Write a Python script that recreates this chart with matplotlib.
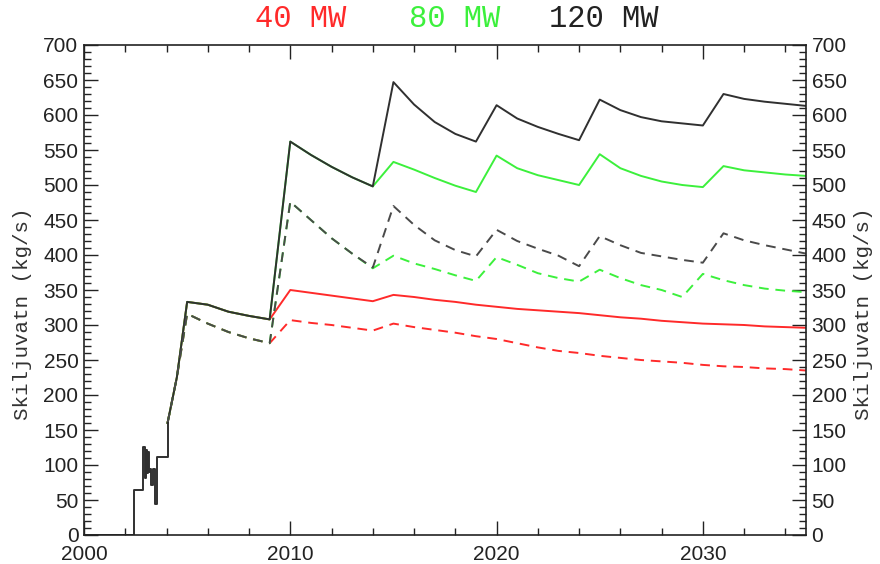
import matplotlib.pyplot as plt
from matplotlib.ticker import MultipleLocator

# observed history (step series)
hist_years = [2000.0, 2002.4, 2002.87, 2002.95, 2003.0, 2003.05, 2003.1, 2003.15,
              2003.2, 2003.27, 2003.35, 2003.45, 2003.55, 2003.95, 2004.05]
hist_vals = [0, 65, 126, 82, 122, 88, 118, 90, 95, 72, 95, 45, 112, 112, 160]

# scenario years
years = [2004.05, 2004.5] + list(range(2005, 2036))

# 120 MW
black_solid = [160, 225, 333, 329, 319, 313, 308, 562, 543, 526, 511, 498,
               647, 615, 590, 573, 562, 614, 595, 583, 573, 564,
               622, 607, 597, 591, 588, 585, 630, 623, 619, 616, 613]
black_dash = [160, 225, 316, 302, 290, 281, 274, 476, 450, 424, 402, 382,
              470, 443, 421, 407, 398, 436, 420, 409, 399, 384,
              427, 414, 403, 398, 393, 389, 431, 421, 414, 408, 402]

# 80 MW
green_solid = [160, 225, 333, 329, 319, 313, 308, 562, 543, 526, 511, 498,
               533, 522, 510, 499, 490, 542, 524, 514, 507, 500,
               544, 524, 513, 505, 500, 497, 527, 521, 518, 515, 513]
green_dash = [160, 225, 316, 302, 290, 281, 274, 476, 450, 424, 402, 381,
              399, 388, 380, 371, 363, 397, 386, 374, 367, 362,
              379, 367, 357, 350, 340, 373, 364, 357, 352, 349, 347]

# 40 MW
red_solid = [160, 225, 333, 329, 319, 313, 308, 350, 346, 342, 338, 334,
             343, 340, 336, 333, 329, 326, 323, 321, 319, 317,
             314, 311, 309, 306, 304, 302, 301, 300, 298, 297, 296]
red_dash = [160, 225, 316, 302, 290, 281, 274, 307, 303, 300, 296, 292,
            302, 297, 293, 289, 284, 280, 274, 268, 263, 260,
            256, 253, 250, 248, 246, 243, 241, 240, 238, 237, 235]

RED = "#ff2a2a"
GREEN = "#3cf03c"
BLACK = "#303030"
DGRAY = "#4a4a4a"

fig = plt.figure(figsize=(8.8, 5.64), dpi=100)
ax = fig.add_axes([84 / 880, 29 / 564, 722 / 880, 490 / 564])

dash = (0, (5, 3.5))
ax.plot(years, red_solid, color=RED, lw=1.4)
ax.plot(years, red_dash, color=RED, lw=1.4, ls=dash)
ax.plot(years, green_solid, color=GREEN, lw=1.4)
ax.plot(years, green_dash, color=GREEN, lw=1.4, ls=dash)
ax.plot(years, black_solid, color=BLACK, lw=1.4)
ax.plot(years, black_dash, color=DGRAY, lw=1.4, ls=dash)
ax.plot(hist_years, hist_vals, color=BLACK, lw=1.4, drawstyle="steps-post")

ax.set_xlim(2000, 2035)
ax.set_ylim(0, 700)
ax.xaxis.set_major_locator(MultipleLocator(10))
ax.xaxis.set_minor_locator(MultipleLocator(2))
ax.yaxis.set_major_locator(MultipleLocator(50))
ax.yaxis.set_minor_locator(MultipleLocator(10))
ax.tick_params(which="both", direction="in", top=True, right=True,
               labelright=True, width=1.0, color="#222222",
               labelsize=15, labelcolor="#222222", pad=4)
ax.tick_params(axis="x", which="major", pad=7)
ax.tick_params(which="major", length=10)
ax.tick_params(which="minor", length=5)
for lab in ax.get_xticklabels() + ax.get_yticklabels():
    lab.set_family("Liberation Sans")
for s in ax.spines.values():
    s.set_linewidth(1.2)
    s.set_color("#222222")

ylab_kw = dict(family="Liberation Mono", fontsize=15, color="#333333",
               rotation=90, va="center", ha="center")
fig.text(23 / 880, 1 - 314 / 564, "Skiljuvatn (kg/s)", **ylab_kw)
fig.text(863 / 880, 1 - 314 / 564, "Skiljuvatn (kg/s)", **ylab_kw)

title_kw = dict(family="Liberation Mono", fontsize=22, va="center", ha="center")
fig.text(301 / 880, 1 - 19 / 564, "40 MW", color=RED, **title_kw)
fig.text(455 / 880, 1 - 19 / 564, "80 MW", color=GREEN, **title_kw)
fig.text(604 / 880, 1 - 19 / 564, "120 MW", color="#222222", **title_kw)

fig.savefig("out.png", dpi=100)
